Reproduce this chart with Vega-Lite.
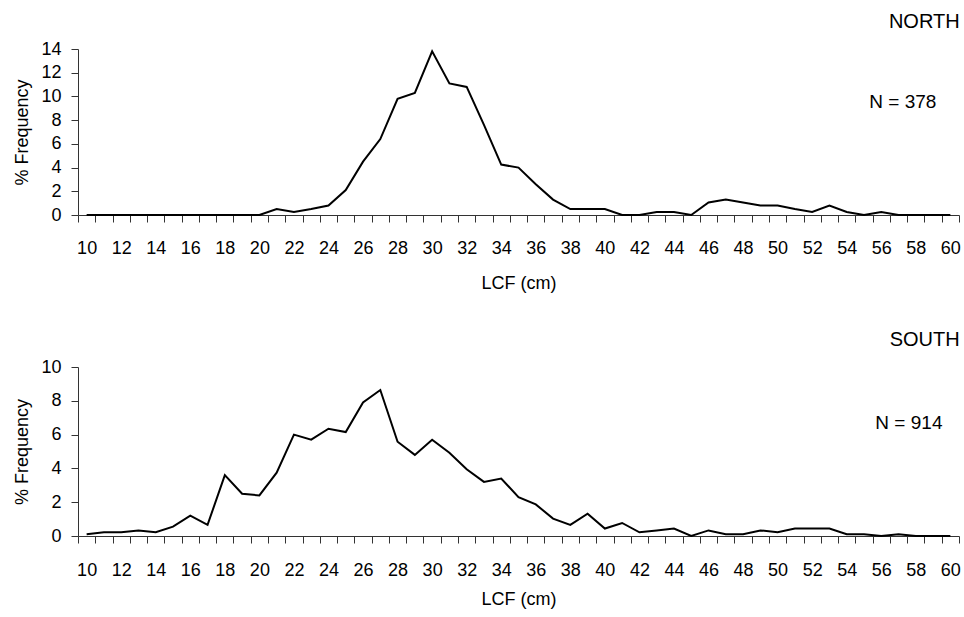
{
  "$schema": "https://vega.github.io/schema/vega-lite/v6.json",
  "background": "white",
  "padding": {"left": 13, "top": 12, "right": 0, "bottom": 5},
  "config": {
    "font": "Liberation Sans",
    "view": {"stroke": null},
    "axis": {"labelFont": "Liberation Sans", "titleFont": "Liberation Sans", "labelColor": "#000", "titleColor": "#000", "titleFontWeight": "normal", "domainColor": "#333", "tickColor": "#333", "grid": false, "labelFontSize": 18, "titleFontSize": 18, "ticks": true},
    "title": {"font": "Liberation Sans", "fontSize": 20, "fontWeight": "normal", "color": "#000", "anchor": "end"}
  },
  "datasets": {
    "north": [
      {"lcf": 10, "freq": 0}, {"lcf": 11, "freq": 0}, {"lcf": 12, "freq": 0}, {"lcf": 13, "freq": 0}, {"lcf": 14, "freq": 0},
      {"lcf": 15, "freq": 0}, {"lcf": 16, "freq": 0}, {"lcf": 17, "freq": 0}, {"lcf": 18, "freq": 0}, {"lcf": 19, "freq": 0},
      {"lcf": 20, "freq": 0}, {"lcf": 21, "freq": 0.5}, {"lcf": 22, "freq": 0.25}, {"lcf": 23, "freq": 0.5}, {"lcf": 24, "freq": 0.8},
      {"lcf": 25, "freq": 2.1}, {"lcf": 26, "freq": 4.5}, {"lcf": 27, "freq": 6.4}, {"lcf": 28, "freq": 9.8}, {"lcf": 29, "freq": 10.3},
      {"lcf": 30, "freq": 13.8}, {"lcf": 31, "freq": 11.1}, {"lcf": 32, "freq": 10.8}, {"lcf": 33, "freq": 7.6}, {"lcf": 34, "freq": 4.25},
      {"lcf": 35, "freq": 4.0}, {"lcf": 36, "freq": 2.6}, {"lcf": 37, "freq": 1.3}, {"lcf": 38, "freq": 0.5}, {"lcf": 39, "freq": 0.5},
      {"lcf": 40, "freq": 0.5}, {"lcf": 41, "freq": 0}, {"lcf": 42, "freq": 0}, {"lcf": 43, "freq": 0.26}, {"lcf": 44, "freq": 0.26},
      {"lcf": 45, "freq": 0}, {"lcf": 46, "freq": 1.05}, {"lcf": 47, "freq": 1.3}, {"lcf": 48, "freq": 1.05}, {"lcf": 49, "freq": 0.8},
      {"lcf": 50, "freq": 0.8}, {"lcf": 51, "freq": 0.5}, {"lcf": 52, "freq": 0.26}, {"lcf": 53, "freq": 0.8}, {"lcf": 54, "freq": 0.26},
      {"lcf": 55, "freq": 0}, {"lcf": 56, "freq": 0.26}, {"lcf": 57, "freq": 0}, {"lcf": 58, "freq": 0}, {"lcf": 59, "freq": 0},
      {"lcf": 60, "freq": 0}
    ],
    "south": [
      {"lcf": 10, "freq": 0.11}, {"lcf": 11, "freq": 0.22}, {"lcf": 12, "freq": 0.22}, {"lcf": 13, "freq": 0.33}, {"lcf": 14, "freq": 0.22},
      {"lcf": 15, "freq": 0.55}, {"lcf": 16, "freq": 1.2}, {"lcf": 17, "freq": 0.66}, {"lcf": 18, "freq": 3.6}, {"lcf": 19, "freq": 2.5},
      {"lcf": 20, "freq": 2.4}, {"lcf": 21, "freq": 3.75}, {"lcf": 22, "freq": 6.0}, {"lcf": 23, "freq": 5.7}, {"lcf": 24, "freq": 6.35},
      {"lcf": 25, "freq": 6.15}, {"lcf": 26, "freq": 7.9}, {"lcf": 27, "freq": 8.64}, {"lcf": 28, "freq": 5.58}, {"lcf": 29, "freq": 4.8},
      {"lcf": 30, "freq": 5.7}, {"lcf": 31, "freq": 4.93}, {"lcf": 32, "freq": 3.95}, {"lcf": 33, "freq": 3.2}, {"lcf": 34, "freq": 3.4},
      {"lcf": 35, "freq": 2.3}, {"lcf": 36, "freq": 1.87}, {"lcf": 37, "freq": 1.03}, {"lcf": 38, "freq": 0.66}, {"lcf": 39, "freq": 1.32},
      {"lcf": 40, "freq": 0.44}, {"lcf": 41, "freq": 0.77}, {"lcf": 42, "freq": 0.22}, {"lcf": 43, "freq": 0.33}, {"lcf": 44, "freq": 0.44},
      {"lcf": 45, "freq": 0}, {"lcf": 46, "freq": 0.33}, {"lcf": 47, "freq": 0.11}, {"lcf": 48, "freq": 0.11}, {"lcf": 49, "freq": 0.33},
      {"lcf": 50, "freq": 0.22}, {"lcf": 51, "freq": 0.44}, {"lcf": 52, "freq": 0.44}, {"lcf": 53, "freq": 0.44}, {"lcf": 54, "freq": 0.11},
      {"lcf": 55, "freq": 0.11}, {"lcf": 56, "freq": 0}, {"lcf": 57, "freq": 0.11}, {"lcf": 58, "freq": 0}, {"lcf": 59, "freq": 0},
      {"lcf": 60, "freq": 0}
    ]
  },
  "vconcat": [
    {
      "width": 881,
      "height": 166,
      "title": {"text": "NORTH", "dx": -8, "offset": 8},
      "resolve": {"axis": {"x": "independent", "y": "independent"}},
      "layer": [
        {
          "data": {"name": "north"},
          "mark": {"type": "line", "color": "#000", "strokeWidth": 2},
          "encoding": {
            "x": {"field": "lcf", "type": "quantitative", "scale": {"domain": [9.5, 60.5], "nice": false, "zero": false},
              "axis": {"title": "LCF (cm)", "orient": "bottom", "values": [9.5,10.5,11.5,12.5,13.5,14.5,15.5,16.5,17.5,18.5,19.5,20.5,21.5,22.5,23.5,24.5,25.5,26.5,27.5,28.5,29.5,30.5,31.5,32.5,33.5,34.5,35.5,36.5,37.5,38.5,39.5,40.5,41.5,42.5,43.5,44.5,45.5,46.5,47.5,48.5,49.5,50.5,51.5,52.5,53.5,54.5,55.5,56.5,57.5,58.5,59.5,60.5],
                "labelExpr": "(datum.value + 0.5) % 2 == 0 && datum.value < 60 ? format(datum.value + 0.5, 'd') : ''",
                "labelOffset": 8.64, "labelFlush": false, "labelOverlap": false, "labelBound": false, "ticks": true, "tickSize": 7, "labelPadding": 17, "titlePadding": 17}},
            "y": {"field": "freq", "type": "quantitative", "scale": {"domain": [0, 14], "nice": false},
              "axis": {"title": "% Frequency", "orient": "left", "values": [0,2,4,6,8,10,12,14], "ticks": true, "tickSize": 7, "labelPadding": 10, "titlePadding": 9, "labelOverlap": false}}
          }
        },
        {
          "data": {"values": [{}]},
          "mark": {"type": "text", "fontSize": 19, "font": "Liberation Sans", "color": "#000", "align": "center", "baseline": "middle"},
          "encoding": {"x": {"datum": 57.25, "type": "quantitative", "axis": null}, "y": {"datum": 9.5, "type": "quantitative", "axis": null}, "text": {"value": "N = 378"}}
        }
      ]
    },
    {
      "width": 881,
      "height": 169,
      "title": {"text": "SOUTH", "dx": -8, "offset": 8},
      "resolve": {"axis": {"x": "independent", "y": "independent"}},
      "layer": [
        {
          "data": {"name": "south"},
          "mark": {"type": "line", "color": "#000", "strokeWidth": 2},
          "encoding": {
            "x": {"field": "lcf", "type": "quantitative", "scale": {"domain": [9.5, 60.5], "nice": false, "zero": false},
              "axis": {"title": "LCF (cm)", "orient": "bottom", "values": [9.5,10.5,11.5,12.5,13.5,14.5,15.5,16.5,17.5,18.5,19.5,20.5,21.5,22.5,23.5,24.5,25.5,26.5,27.5,28.5,29.5,30.5,31.5,32.5,33.5,34.5,35.5,36.5,37.5,38.5,39.5,40.5,41.5,42.5,43.5,44.5,45.5,46.5,47.5,48.5,49.5,50.5,51.5,52.5,53.5,54.5,55.5,56.5,57.5,58.5,59.5,60.5],
                "labelExpr": "(datum.value + 0.5) % 2 == 0 && datum.value < 60 ? format(datum.value + 0.5, 'd') : ''",
                "labelOffset": 8.64, "labelFlush": false, "labelOverlap": false, "labelBound": false, "ticks": true, "tickSize": 7, "labelPadding": 18, "titlePadding": 11}},
            "y": {"field": "freq", "type": "quantitative", "scale": {"domain": [0, 10], "nice": false},
              "axis": {"title": "% Frequency", "orient": "left", "values": [0,2,4,6,8,10], "ticks": true, "tickSize": 7, "labelPadding": 10, "titlePadding": 9, "labelOverlap": false}}
          }
        },
        {
          "data": {"values": [{}]},
          "mark": {"type": "text", "fontSize": 19, "font": "Liberation Sans", "color": "#000", "align": "center", "baseline": "middle"},
          "encoding": {"x": {"datum": 57.6, "type": "quantitative", "axis": null}, "y": {"datum": 6.7, "type": "quantitative", "axis": null}, "text": {"value": "N = 914"}}
        }
      ]
    }
  ],
  "spacing": 38
}
